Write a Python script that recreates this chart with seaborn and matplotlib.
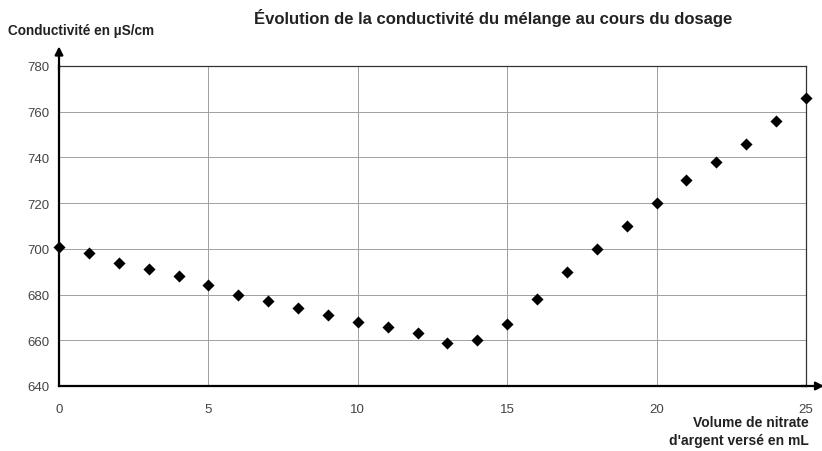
import numpy as np
import pandas as pd
import matplotlib.pyplot as plt
import seaborn as sns

# volume de nitrate d'argent (mL) et conductivité (µS/cm)
volume = [0, 1, 2, 3, 4, 5, 6, 7, 8, 9, 10, 11, 12, 13, 14, 15, 16, 17, 18, 19, 20, 21, 22, 23, 24, 25]
conductivite = [701, 698, 694, 691, 688, 684, 680, 677, 674, 671, 668, 666, 663, 659, 660,
                667, 678, 690, 700, 710, 720, 730, 738, 746, 756, 766]
x_ticks = [0, 5, 10, 15, 20, 25]
y_ticks = [640, 660, 680, 700, 720, 740, 760, 780]

df = pd.DataFrame({'volume': volume, 'conductivite': conductivite})

sns.set_style('white')
plt.rcParams['font.family'] = ['Liberation Sans', 'DejaVu Sans']

fig = plt.figure(figsize=(8.22, 4.52), dpi=100)
ax = fig.add_axes([59 / 822, 1 - 387 / 452, (806 - 59) / 822, (387 - 67) / 452])

sns.scatterplot(data=df, x='volume', y='conductivite', marker='D', color='black',
                s=38, edgecolor='black', linewidth=0, ax=ax, clip_on=False, zorder=5)

ax.set_xlim(0, 25)
ax.set_ylim(640, 780)
ax.set_xticks(x_ticks)
ax.set_yticks(y_ticks)
ax.set_xticks(range(0, 26), minor=True)
ax.grid(True, which='major', color='#a0a0a0', linewidth=0.7)
ax.tick_params(axis='both', which='major', labelsize=9.5, length=4, color='#222222')
ax.tick_params(axis='x', which='major', direction='inout', pad=10)
ax.tick_params(axis='x', which='minor', direction='in', length=3, color='#222222')
ax.tick_params(axis='y', which='major', direction='out', pad=3)
for lab in ax.get_xticklabels() + ax.get_yticklabels():
    lab.set_color('#444444')

for side in ['left', 'bottom']:
    ax.spines[side].set_color('black')
    ax.spines[side].set_linewidth(1.6)
for side in ['top', 'right']:
    ax.spines[side].set_color('#333333')
    ax.spines[side].set_linewidth(0.9)

ax.set_xlabel('')
ax.set_ylabel('')

# flèches au bout des axes
ax.annotate('', xy=(0, 1.07), xytext=(0, 0.98), xycoords='axes fraction',
            arrowprops=dict(arrowstyle='-|>', color='black', lw=1.6, mutation_scale=12))
ax.annotate('', xy=(1.028, 0), xytext=(0.99, 0), xycoords='axes fraction',
            arrowprops=dict(arrowstyle='-|>', color='black', lw=1.6, mutation_scale=12))

fig.text(493 / 822, 1 - 18 / 452, 'Évolution de la conductivité du mélange au cours du dosage',
         ha='center', va='center', fontsize=12, fontweight='bold', color='#222222')
fig.text(8 / 822, 1 - 31 / 452, 'Conductivité en µS/cm', ha='left', va='center',
         fontsize=9.8, fontweight='bold', color='#222222')
fig.text(809 / 822, 1 - 432 / 452, "Volume de nitrate\nd'argent versé en mL", ha='right',
         va='center', fontsize=10, fontweight='bold', color='#222222', linespacing=1.45)

fig.savefig('out.png', dpi=100)
